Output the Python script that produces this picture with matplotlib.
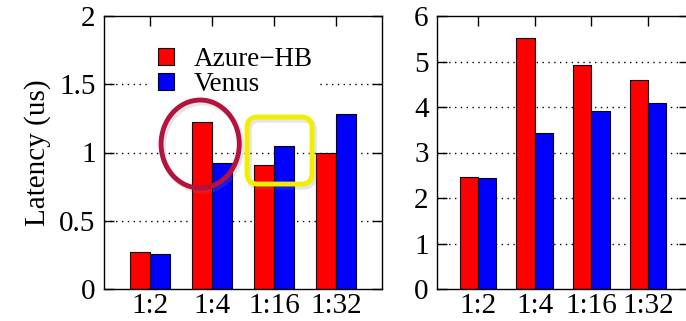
import matplotlib
matplotlib.use("Agg")
import matplotlib.pyplot as plt
import numpy as np
from matplotlib.patches import Ellipse, FancyBboxPatch, Patch
import matplotlib.patheffects as pe

plt.rcParams['font.family'] = ['Liberation Serif', 'DejaVu Serif']
plt.rcParams['axes.unicode_minus'] = True

categories = ["1:2", "1:4", "1:16", "1:32"]
series_names = ["Azure\u2212HB", "Venus"]
left_azure = [0.27, 1.22, 0.91, 1.00]
left_venus = [0.26, 0.92, 1.05, 1.28]
right_azure = [2.46, 5.51, 4.93, 4.60]
right_venus = [2.43, 3.42, 3.92, 4.08]
left_yticks = [0, 0.5, 1, 1.5, 2]
left_yticklabels = ["0", "0.5", "1", "1.5", "2"]
right_yticks = [0, 1, 2, 3, 4, 5, 6]
ylabel = "Latency (us)"

RED = "#ff0000"
BLUE = "#0000ff"
FS = 21

fig = plt.figure(figsize=(6.86, 3.21), dpi=100)
W, H = 686, 321

def px_axes(l, r, t, b):
    return fig.add_axes([l / W, (H - b) / H, (r - l) / W, (b - t) / H])

ax1 = px_axes(104, 382, 16, 289)
ax2 = px_axes(437, 689, 16, 289)

x = np.arange(len(categories))
bw = 0.32

def style(ax, ymax, yticks, ylabels, xlim):
    ax.set_xlim(*xlim)
    ax.set_ylim(0, ymax)
    ax.set_xticks(x)
    ax.set_xticklabels(categories, fontsize=FS)
    ax.set_yticks(yticks)
    ax.set_yticklabels(ylabels, fontsize=FS)
    ax.tick_params(axis='both', direction='in', length=7, width=1,
                   top=True, right=True, colors='black')
    ax.tick_params(axis='x', pad=3)
    ax.tick_params(axis='y', pad=6)
    for s in ax.spines.values():
        s.set_linewidth(1.0)
        s.set_color('black')
    for yt in yticks[1:-1]:
        ax.axhline(yt, color='black', lw=1.0, linestyle=(0, (1, 3.2)), zorder=0.5)

for ax, a, v, ymax, yt, yl, xl in [
    (ax1, left_azure, left_venus, 2, left_yticks, left_yticklabels, (-0.74, 3.74)),
    (ax2, right_azure, right_venus, 6, right_yticks, [str(t) for t in right_yticks], (-0.72, 3.72)),
]:
    ax.bar(x - bw / 2, a, width=bw, color=RED, edgecolor='black', linewidth=0.8, zorder=2)
    ax.bar(x + bw / 2, v, width=bw, color=BLUE, edgecolor='black', linewidth=0.8, zorder=2)
    style(ax, ymax, yt, yl, xl)

ax1.set_ylabel(ylabel, fontsize=FS, labelpad=6)

handles = [Patch(facecolor=RED, edgecolor='black', linewidth=0.8),
           Patch(facecolor=BLUE, edgecolor='black', linewidth=0.8)]
leg = ax1.legend(handles, series_names, fontsize=19.5, loc='upper left',
                 bbox_to_anchor=(0.17, 0.91), frameon=True, framealpha=1,
                 facecolor='white', edgecolor='none', fancybox=False,
                 handlelength=0.6, handleheight=0.6, handletextpad=0.72,
                 labelspacing=0.0, borderpad=0.25, borderaxespad=0)
leg.set_zorder(3)

shadow = [pe.SimpleLineShadow(offset=(1.5, -2), shadow_color='gray', alpha=0.2, linewidth=4), pe.Normal()]

ell = Ellipse((0.81, 1.062), width=1.26, height=0.645, fill=False,
              edgecolor='#b5123e', linewidth=3.5, zorder=5, clip_on=False)
ell.set_path_effects(shadow)
ax1.add_patch(ell)

rect = FancyBboxPatch((1.565, 0.769), 2.613 - 1.565, 1.26 - 0.769,
                      boxstyle="round,pad=0,rounding_size=0.17",
                      mutation_aspect=62 / 136.5, fill=False,
                      edgecolor='#f2ee00', linewidth=3.5, zorder=5, clip_on=False)
rect.set_path_effects(shadow)
ax1.add_patch(rect)

fig.savefig("out.png", dpi=100)
